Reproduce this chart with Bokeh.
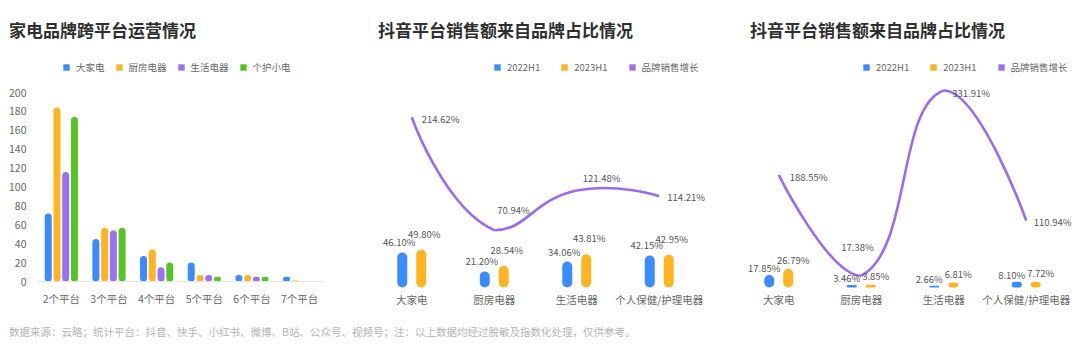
import math
from bokeh.plotting import figure
from bokeh.models import (ColumnDataSource, Range1d, FactorRange, FixedTicker, Legend,
                          LegendItem, LabelSet, Div, Span)
from bokeh.layouts import row, column
from bokeh.transform import dodge
from bokeh.core.properties import value
from bokeh.embed import file_html
from bokeh.resources import INLINE

# ---------------- data ----------------
platform_cats = ["2个平台", "3个平台", "4个平台", "5个平台", "6个平台", "7个平台"]
left_series = ["大家电", "厨房电器", "生活电器", "个护小电"]
big_appliance = [72, 45, 27, 20, 7, 5]
kitchen_appliance = [184, 57, 34, 7, 7, 1]
living_appliance = [116, 54, 15, 7, 5, 0]
personal_care = [174, 57, 20, 5, 5, 0]
left_yticks = [0, 20, 40, 60, 80, 100, 120, 140, 160, 180, 200]

brand_cats = ["大家电", "厨房电器", "生活电器", "个人保健/护理电器"]
share_series = ["2022H1", "2023H1", "品牌销售增长"]
mid_2022h1 = [46.10, 21.20, 34.06, 42.15]
mid_2023h1 = [49.80, 28.54, 43.81, 42.95]
mid_growth = [214.62, 70.94, 121.48, 114.21]
right_2022h1 = [17.85, 3.46, 2.66, 8.10]
right_2023h1 = [26.79, 3.85, 6.81, 7.72]
right_growth = [188.55, 17.38, 331.91, 110.94]

titles = ["家电品牌跨平台运营情况", "抖音平台销售额来自品牌占比情况", "抖音平台销售额来自品牌占比情况"]
footer_text = ("数据来源：云略；统计平台：抖音、快手、小红书、微博、B站、公众号、视频号；"
               "注：以上数据均经过脱敏及指数化处理，仅供参考。")

# ---------------- style ----------------
FONT = "Noto Sans CJK SC"
BLUE, ORANGE, PURPLE, GREEN = "#3a8bfd", "#ffb422", "#9d70f2", "#58c325"
LINE = "#9a6bf0"
TXT = "#666666"
TITLE_H = 45          # height of the title strip above the plots
H = 275               # plot height (frame covers the full height)
TOP, BOT = TITLE_H, TITLE_H + H   # page y of the frame top / bottom
PAGE_W = 1080
LEGEND_BOTTOM = 74    # page y of the legend's lower edge


def base_fig(x_range, y_range, left, right, y_axis=True):
    p = figure(width=360, height=H, x_range=x_range, y_range=y_range,
               output_backend="svg", toolbar_location=None, title=None,
               min_border_left=left, min_border_right=right, min_border_top=0,
               min_border_bottom=0, outline_line_color=None, x_axis_location=None,
               y_axis_location="left" if y_axis else None)
    p.grid.visible = False
    return p


def category_labels(p, cats, y_off):
    src = ColumnDataSource(dict(cat=cats))
    p.add_layout(LabelSet(x="cat", y=0, text="cat", source=src, y_offset=y_off,
                          text_align="center", text_baseline="middle",
                          text_font=value(FONT), text_font_size=value("10.5px"),
                          text_color=TXT))


def title_div(text, pad_left):
    return Div(text=(f'<div style="font-family:\'{FONT}\';font-size:17px;font-weight:bold;'
                     f'color:#2f2f2f;padding:19px 0 0 {pad_left}px;line-height:21px;'
                     f'white-space:nowrap">{text}</div>'),
               width=360, height=TITLE_H, margin=0)


def add_legend(p, names, renderers, x, spacing):
    items = [LegendItem(label=nm, renderers=[r]) for nm, r in zip(names, renderers)]
    lg = Legend(items=items, location=(x, BOT - LEGEND_BOTTOM), orientation="horizontal",
                glyph_width=8, glyph_height=8, label_height=8, label_width=10,
                label_standoff=6, spacing=spacing, padding=0, margin=0,
                border_line_color=None, background_fill_alpha=0, label_text_font=FONT,
                label_text_font_size="9.5px", label_text_color=TXT,
                label_text_baseline="middle")
    p.add_layout(lg)


def smooth_curve(xs, ys, kx, ky, smooth=0.5):
    """ECharts-style smoothing: cubic bezier control points computed in pixel space."""
    P = [(x * kx, y * ky) for x, y in zip(xs, ys)]
    mnx, mxx = min(q[0] for q in P), max(q[0] for q in P)
    mny, mxy = min(q[1] for q in P), max(q[1] for q in P)

    def clamp(q):
        return (min(max(q[0], mnx), mxx), min(max(q[1], mny), mxy))

    out = dict(x0=[], y0=[], x1=[], y1=[], cx0=[], cy0=[], cx1=[], cy1=[])
    cp0 = P[0]
    n = len(P)
    for k in range(1, n):
        p, prev = P[k], P[k - 1]
        if k + 1 < n:
            nxt = P[k + 1]
            vx, vy = nxt[0] - prev[0], nxt[1] - prev[1]
            lp = math.hypot(p[0] - prev[0], p[1] - prev[1])
            ln = math.hypot(nxt[0] - p[0], nxt[1] - p[1])
            r = ln / (ln + lp)
            cp1 = (p[0] - vx * smooth * (1 - r), p[1] - vy * smooth * (1 - r))
        else:
            cp1 = p
        a, b = clamp(cp0), clamp(cp1)
        out["x0"].append(prev[0] / kx); out["y0"].append(prev[1] / ky)
        out["x1"].append(p[0] / kx); out["y1"].append(p[1] / ky)
        out["cx0"].append(a[0] / kx); out["cy0"].append(a[1] / ky)
        out["cx1"].append(b[0] / kx); out["cy1"].append(b[1] / ky)
        if k + 1 < n:
            cp0 = (p[0] + vx * smooth * r, p[1] + vy * smooth * r)
    return out


# ================= left chart =================
L_BASE, L_PX = 281, 0.945          # page y of zero, px per unit
p1 = base_fig(FactorRange(*platform_cats),
              Range1d(-(BOT - L_BASE) / L_PX, (L_BASE - TOP) / L_PX), 37, 37)
p1.yaxis.ticker = FixedTicker(ticks=left_yticks)
p1.yaxis.axis_line_color = None
p1.yaxis.major_tick_line_color = None
p1.yaxis.minor_tick_line_color = None
p1.yaxis.major_tick_out = 0
p1.yaxis.minor_tick_out = 0
p1.yaxis.major_label_standoff = 11
p1.yaxis.major_label_text_font = FONT
p1.yaxis.major_label_text_font_size = "10.5px"
p1.yaxis.major_label_text_color = TXT
p1.add_layout(Span(location=0, dimension="width", line_color="#e4e4e4", line_width=1))

left_src = ColumnDataSource(dict(cat=platform_cats, a=big_appliance, b=kitchen_appliance,
                                 c=living_appliance, d=personal_care))
left_colors = [BLUE, ORANGE, PURPLE, GREEN]
left_offsets = [-0.275, -0.092, 0.092, 0.275]
left_renderers = []
for fld, col, off in zip("abcd", left_colors, left_offsets):
    left_renderers.append(
        p1.vbar(x=dodge("cat", off, range=p1.x_range), top=fld, bottom=0, width=0.147,
                source=left_src, fill_color=col, line_color=None, border_radius=4))

category_labels(p1, platform_cats, -16.5)
add_legend(p1, left_series, left_renderers, 62 - 37, 10)


# ================= share charts =================
def share_chart(v22, v23, growth, left, right, bar_px, line_zero, line_px,
                line_dx, line_dy, bar_dx, bar_dy, legend_x):
    base = 287                                   # page y of the bar baseline
    frame_w = 360 - left - right
    unit = 82.5                                  # px per category
    n = len(brand_cats)
    pad = (frame_w / unit - n) / 2               # applied on each side
    xr = FactorRange(*brand_cats, range_padding=pad, range_padding_units="absolute")
    p = base_fig(xr, Range1d(-(BOT - base) / bar_px, (base - TOP) / bar_px), left, right,
                 y_axis=False)
    lo = (line_zero - BOT) / line_px
    hi = (line_zero - TOP) / line_px
    p.extra_y_ranges = {"line": Range1d(lo, hi)}

    src = ColumnDataSource(dict(cat=brand_cats, v22=v22, v23=v23,
                                t22=[f"{v:.2f}%" for v in v22],
                                t23=[f"{v:.2f}%" for v in v23]))
    rb = p.vbar(x=dodge("cat", -0.115, range=p.x_range), top="v22", bottom=0, width=0.121,
                source=src, fill_color=BLUE, line_color=None, border_radius=5)
    ro = p.vbar(x=dodge("cat", 0.115, range=p.x_range), top="v23", bottom=0, width=0.121,
                source=src, fill_color=ORANGE, line_color=None, border_radius=5)
    p.add_layout(LabelSet(x=dodge("cat", -0.115, range=p.x_range), y="v22", text="t22",
                          source=src, x_offset=-bar_dx, y_offset=bar_dy[0],
                          text_align="center", text_baseline="middle",
                          text_font=value(FONT), text_font_size=value("9.5px"),
                          text_color="#555555"))
    p.add_layout(LabelSet(x=dodge("cat", 0.115, range=p.x_range), y="v23", text="t23",
                          source=src, x_offset=bar_dx, y_offset=bar_dy[1],
                          text_align="center", text_baseline="middle",
                          text_font=value(FONT), text_font_size=value("9.5px"),
                          text_color="#555555"))

    # smooth growth line
    ky = H / (hi - lo)
    xs = [i + 0.5 for i in range(n)]
    curve = smooth_curve(xs, growth, unit, ky)
    p.bezier(source=ColumnDataSource(curve), x0="x0", y0="y0", x1="x1", y1="y1",
             cx0="cx0", cy0="cy0", cx1="cx1", cy1="cy1", line_color=LINE,
             line_width=2.6, y_range_name="line")
    # legend swatch for the growth series (a zero-height bar, not visible in the plot)
    rg = p.vbar(x=brand_cats[:1], top=[0], bottom=[0], width=0.1, fill_color=PURPLE,
                line_color=None)
    gsrc = ColumnDataSource(dict(cat=brand_cats, g=growth, t=[f"{v:.2f}%" for v in growth],
                                 dx=line_dx, dy=line_dy))
    p.add_layout(LabelSet(x="cat", y="g", text="t", source=gsrc, x_offset="dx", y_offset="dy",
                          y_range_name="line", text_align="left", text_baseline="middle",
                          text_font=value(FONT), text_font_size=value("9.5px"),
                          text_color="#555555"))

    category_labels(p, brand_cats, -11.5)
    add_legend(p, share_series, [rb, ro, rg], legend_x, 20)
    return p


# middle: frame page x 360..710, categories 370..700
p2 = share_chart(mid_2022h1, mid_2023h1, mid_growth, 0, 10, 0.76, 285.6, 0.787,
                 [10, 3, 6, 8], [-2, 20, 12, -1], 3, (10, 16), 493 - 360)

# right: frame page x 724..1080, categories 737..1067
p3 = share_chart(right_2022h1, right_2023h1, right_growth, 4, 0, 0.7, 285.5, 0.589,
                 [11, -20, 8.5, 7.5], [-2, 29, -2, -1], 5, (7, 9), 862 - 724)

titles_row = row(title_div(titles[0], 9), title_div(titles[1], 18), title_div(titles[2], 30),
                 spacing=0)

footer = Div(text=(f'<div style="font-family:\'{FONT}\';font-size:10.5px;color:#b4b4b4;'
                   f'padding:5px 0 0 9px;white-space:nowrap;line-height:14px">{footer_text}</div>'),
             width=PAGE_W, height=33, margin=0)

layout = column(titles_row, row(p1, p2, p3, spacing=0), footer, spacing=0)
open("out.html", "w").write(file_html(layout, INLINE))
